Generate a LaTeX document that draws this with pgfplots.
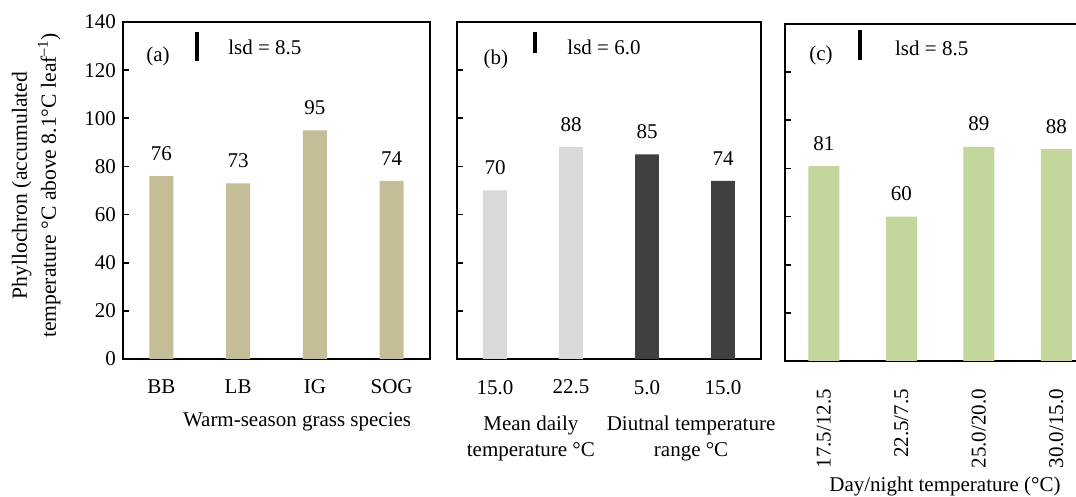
\documentclass[border=0pt]{standalone}
\usepackage{fontspec}
\setmainfont{Liberation Serif}
\usepackage{pgfplots}
\pgfplotsset{compat=1.18}

\definecolor{tanbar}{HTML}{C4BD97}
\definecolor{lightbar}{HTML}{D9D9D9}
\definecolor{darkbar}{HTML}{404040}
\definecolor{greenbar}{HTML}{C3D69B}

\newcommand{\lab}{\rmfamily\fontsize{10.5}{13}\selectfont}

\pgfplotsset{
  panel/.style={
    scale only axis,
    height=168.5pt,
    anchor=south west,
    xmin=-0.5, xmax=3.5, ymin=0, ymax=140,
    ytick={0,20,...,140},
    xtick={0,1,2,3},
    tick align=inside,
    major tick length=3pt,
    ytick pos=left,
    xtick style={draw=none},
    axis line style={line width=0.8pt},
    ytick style={black, line width=0.8pt},
    tick label style={font=\lab},
    xticklabel style={yshift=-7pt},
    /pgf/number format/assume math mode=true,
    clip=false,
  },
  valbar/.style={
    ybar, bar shift=0pt, bar width=#1, draw=none,
    nodes near coords,
    every node near coord/.append style={font=\lab, black, yshift=4.3pt},
  },
  lsd/.style={sharp plot, black, line width=2pt, no marks, forget plot},
}

\begin{document}
\begin{tikzpicture}

% (a) species
\begin{axis}[panel, at={(61.5pt,69pt)}, width=153.5pt,
  xticklabels={BB,LB,IG,SOG},
  ylabel={Phyllochron (accumulated\\temperature °C above 8.1°C leaf\textsuperscript{–1})},
  ylabel style={at={(axis description cs:-0.283,0.515)}, anchor=center, align=center,
    font=\rmfamily\fontsize{10.8}{14.5}\selectfont},
  xlabel={Warm-season grass species},
  xlabel style={at={(axis description cs:0.567,-0.187)}, anchor=center, font=\lab},
]
\addplot[valbar=0.31, fill=tanbar] coordinates {(0,76) (1,73) (2,95) (3,74)};
\addplot[lsd] coordinates {(0.464,124) (0.464,136)};
\node[font=\lab] at (axis cs:-0.044,125.5) {(a)};
\node[font=\lab, anchor=west] at (axis cs:0.78,129.6) {lsd = 8.5};
\end{axis}

% (b) mean daily / diurnal range
\begin{axis}[panel, at={(228.5pt,69pt)}, width=152pt,
  xticklabels={15.0,22.5,5.0,15.0},
  yticklabels={},
]
\addplot[valbar=0.31, fill=lightbar] coordinates {(0,70) (1,88)};
\addplot[valbar=0.31, fill=darkbar] coordinates {(2,85) (3,74)};
\addplot[lsd] coordinates {(0.526,127) (0.526,136)};
\node[font=\lab] at (axis description cs:0.243,-0.236) [align=center] {Mean daily\\temperature °C};
\node[font=\lab] at (axis description cs:0.77,-0.236) [align=center] {Diutnal temperature\\range °C};
\node[font=\lab] at (axis cs:0.013,124.6) {(b)};
\node[font=\lab, anchor=west] at (axis cs:0.86,129.6) {lsd = 6.0};
\end{axis}

% (c) day/night temperature
\begin{axis}[panel, at={(392.5pt,68pt)}, width=155pt,
  xticklabels={17.5/12.5,22.5/7.5,25.0/20.0,30.0/15.0},
  xticklabel style={rotate=90, anchor=east, yshift=0pt, xshift=-3.5pt},
  yticklabels={},
  xlabel={Day/night temperature (°C)},
  xlabel style={at={(axis description cs:0.516,-0.372)}, anchor=center, font=\lab},
]
\addplot[valbar=0.40, fill=greenbar] coordinates {(0,81) (1,60) (2,89) (3,88)};
\addplot[lsd] coordinates {(0.468,125) (0.468,137.5)};
\node[font=\lab] at (axis cs:-0.035,127) {(c)};
\node[font=\lab, anchor=west] at (axis cs:0.83,130) {lsd = 8.5};
\end{axis}

\pgfresetboundingbox
\path[use as bounding box] (0,0) rectangle (538pt,248.5pt);
\end{tikzpicture}
\end{document}
